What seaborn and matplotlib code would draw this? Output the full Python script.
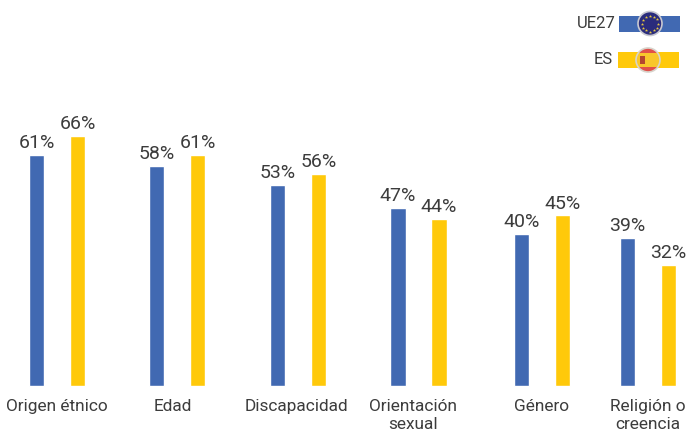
import pandas as pd
import numpy as np
import seaborn as sns
import matplotlib.pyplot as plt
from matplotlib.patches import Circle, Rectangle

categories = ['Origen étnico', 'Edad', 'Discapacidad', 'Orientación\nsexual', 'Género', 'Religión o\ncreencia']
ue27 = [61, 58, 53, 47, 40, 39]
es = [66, 61, 56, 44, 45, 32]

# layout: groups are not evenly spaced in the original, labels are not centred on them either
group_x = [57, 177, 298, 418.5, 542, 648]
label_x = [57, 173, 296, 413, 542, 648]

BLUE = '#4169b2'
YELLOW = '#ffc90a'
TEXT = '#3c3c3c'

sns.set_theme(style='white')
plt.rcParams['font.family'] = ['Roboto', 'DejaVu Sans']

df = pd.DataFrame({'x': group_x, 'UE27': ue27, 'ES': es})
df = df.melt(id_vars='x', var_name='zona', value_name='valor')

fig = plt.figure(figsize=(6.87, 4.37), dpi=100)
ax = fig.add_axes([0, 0, 1, 1])
sns.barplot(data=df, x='x', y='valor', hue='zona', hue_order=['UE27', 'ES'], native_scale=True,
            palette=[BLUE, YELLOW], saturation=1, width=0.7736, gap=0.61, legend=False, ax=ax)

ax.set_xlim(0, 687)
ax.set_ylim(-13.55, 101.85)
for c in ax.containers:
    ax.bar_label(c, fmt='%d%%', padding=2, fontsize=14, color=TEXT)

ax.set_xticks(label_x)
ax.set_xticklabels(categories, fontsize=12.4, color=TEXT, linespacing=1.3)
ax.tick_params(axis='x', direction='in', pad=-27.5, length=0)
ax.tick_params(axis='y', left=False, labelleft=False)
ax.set_xlabel('')
ax.set_ylabel('')
sns.despine(ax=ax, left=True, bottom=True, top=True, right=True)
ax.patch.set_alpha(0)

# legend with the flags, in pixel coords
leg = fig.add_axes([0, 0, 1, 1])
leg.set_xlim(0, 687)
leg.set_ylim(437, 0)
leg.axis('off')
leg.add_patch(Rectangle((619, 16), 61, 16, color=BLUE, lw=0))
leg.add_patch(Rectangle((618, 52), 61, 16, color=YELLOW, lw=0))
leg.text(616, 24, 'UE27', ha='right', va='center', fontsize=12, color=TEXT)
leg.text(613, 60, 'ES', ha='right', va='center', fontsize=12, color=TEXT)

# EU flag
leg.add_patch(Circle((650, 23.5), 12, fc='#2a2c7c', ec='#c8c8d0', lw=1.2, zorder=3))
ang = np.arange(12) * np.pi / 6
leg.scatter(650 + 8 * np.cos(ang), 23.5 + 8 * np.sin(ang), marker='*', s=6, color='#e8c840', lw=0, zorder=4)

# Spanish flag
clip = Circle((648, 60), 12, transform=leg.transData)
top = Rectangle((635, 47), 26, 26, fc='#e0504a', lw=0, zorder=3)
mid = Rectangle((635, 53), 26, 14, fc='#f8c62c', lw=0, zorder=4)
leg.add_patch(top)
leg.add_patch(mid)
top.set_clip_path(clip)
mid.set_clip_path(clip)
leg.add_patch(Rectangle((639.5, 56), 5, 8, fc='#b5452f', lw=0, zorder=5))
leg.add_patch(Circle((648, 60), 12, fc='none', ec='#d8d4cc', lw=1.2, zorder=6))

fig.savefig('out.png', dpi=100)
